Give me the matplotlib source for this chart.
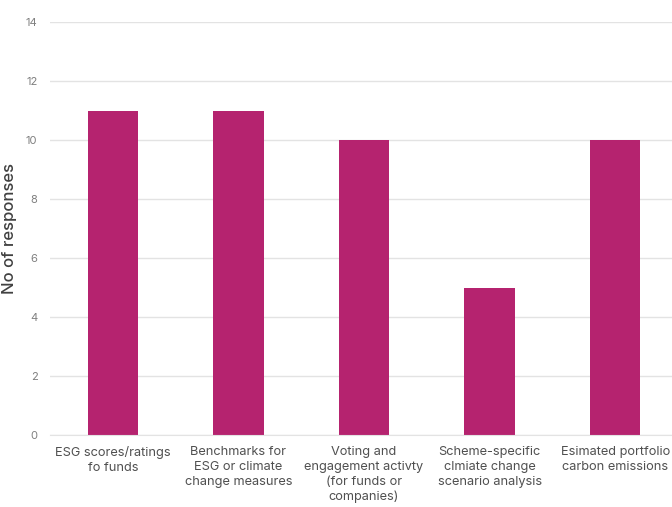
import matplotlib.pyplot as plt

# Responses per type of ESG data used
categories = [
    "ESG scores/ratings\nfo funds",
    "Benchmarks for\nESG or climate\nchange measures",
    "Voting and\nengagement activty\n(for funds or\ncompanies)",
    "Scheme-specific\nclmiate change\nscenario analysis",
    "Esimated portfolio\ncarbon emissions",
]
responses = [11, 11, 10, 5, 10]
yticks = [0, 2, 4, 6, 8, 10, 12, 14]

plt.rcParams['font.family'] = ['Inter', 'DejaVu Sans']

fig = plt.figure(figsize=(6.72, 5.07), dpi=100)
ax = fig.add_axes([50/672, 72/507, 628/672, 413/507])

x = range(len(categories))
ax.bar(x, responses, width=0.4, color='#B5236F', zorder=2)

ax.set_xlim(-0.5, len(categories) - 0.5)
ax.set_ylim(0, 14)
ax.set_yticks(yticks)
ax.yaxis.grid(True, color='#E3E3E3', linewidth=1, zorder=0)
ax.set_xticks(list(x))
ax.set_xticklabels(categories, fontsize=9.2, color='#505050', linespacing=1.3)
ax.tick_params(axis='y', labelsize=8, colors='#7F7F7F', length=0, pad=9)
ax.tick_params(axis='x', length=0, pad=8)
for s in ['top', 'right', 'left']:
    ax.spines[s].set_visible(False)
ax.spines['bottom'].set_color('#E3E3E3')

ax.set_ylabel('No of responses', fontsize=12, color='#404040', fontweight='medium')
ax.yaxis.set_label_coords(-0.053, 0.5)

fig.savefig('out.png', dpi=100)
